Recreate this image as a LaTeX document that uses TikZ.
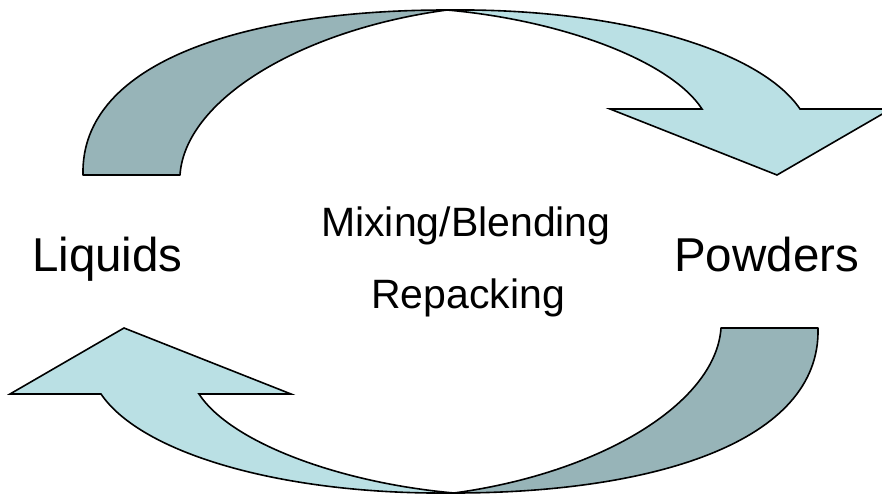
\documentclass[tikz,border=0pt]{standalone}
\usepackage{fontspec}
\setmainfont{Liberation Sans}
\usepackage{tikz}
\definecolor{bandback}{RGB}{151,180,184}
\definecolor{bandfront}{RGB}{186,224,228}
\tikzstyle{back} = [draw=black, fill=bandback, line width=1.6pt, line join=round]
\tikzstyle{front} = [draw=black, fill=bandfront, line width=1.6pt, line join=miter]
\tikzstyle{word} = [inner sep=0pt, anchor=base west, font=\fontsize{41}{48}\selectfont]
\tikzstyle{bigword} = [word, font=\fontsize{47.5}{56}\selectfont]

\begin{document}
\begin{tikzpicture}[x=1pt, y=-1pt]
    \useasboundingbox (0,0) rectangle (882,497);

    % upper arrow, Liquids to Powders
    \draw [back] (83,175) -- (180,175) .. controls (185,100) and (300,30) .. (447,10)
        .. controls (250,10) and (80,60) .. (83,175) -- cycle;
    \draw [front] (447,10) .. controls (620,8) and (760,50) .. (800,109) -- (891,109) -- (777,175)
        -- (610,109) -- (702,109) .. controls (670,60) and (560,20) .. (447,10) -- cycle;

    % lower arrow, the same one turned round
    \begin{scope}[rotate around={180:(450.5,251.5)}]
    \draw [back] (83,175) -- (180,175) .. controls (185,100) and (300,30) .. (447,10)
        .. controls (250,10) and (80,60) .. (83,175) -- cycle;
    \draw [front] (447,10) .. controls (620,8) and (760,50) .. (800,109) -- (891,109) -- (777,175)
        -- (610,109) -- (702,109) .. controls (670,60) and (560,20) .. (447,10) -- cycle;
    \end{scope}

    \node (liquids) [bigword] at (32,271) {Liquids};
    \node (powders) [bigword] at (674,271) {Powders};
    \node (mixing) [word] at (321,236) {Mixing/Blending};
    \node (repack) [word] at (371,308) {Repacking};
\end{tikzpicture}
\end{document}
